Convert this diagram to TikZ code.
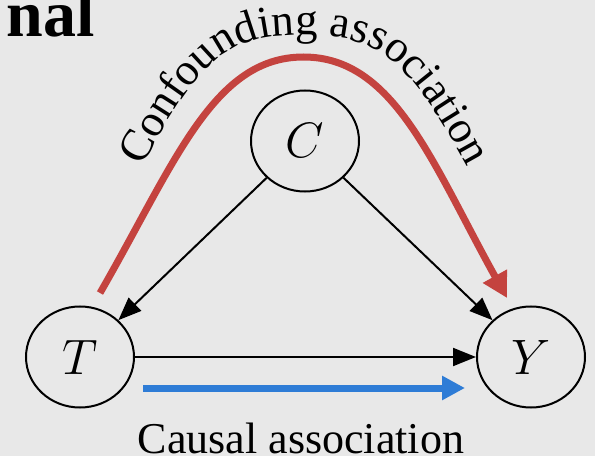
\documentclass[tikz,border=0pt]{standalone}
\usepackage{fontspec}
\setmainfont{Liberation Serif}
\usepackage{tikz}
\usetikzlibrary{arrows.meta,shapes.geometric,decorations.text}

\definecolor{bggray}{HTML}{E8E8E8}
\definecolor{confred}{HTML}{C4433F}
\definecolor{causalblue}{HTML}{2E7CD6}

\begin{document}
\begin{tikzpicture}[x=0.5pt,y=0.5pt,
    var/.style={ellipse,draw,line width=1pt,minimum width=54pt,minimum height=50.5pt,
      inner sep=0pt,font=\fontsize{27}{30}\selectfont},
    edge/.style={-{Triangle[length=11.5pt,width=9pt]},line width=1pt},
    assoc/.style={line width=3.5pt}]
    \useasboundingbox (0,0) rectangle (595,456);
    \fill[bggray] (0,0) rectangle (595,456);

    \node[anchor=base east,inner sep=0pt,font=\fontsize{33}{36}\selectfont\bfseries] (title) at (95,419) {nal};

    % variables
    \node[var] (C) at (305,315) {$C$};
    \node[var] (T) at (80,99) {$T$};
    \node[var] (Y) at (531,99) {$Y$};

    \draw[edge] (C) -- (T);
    \draw[edge] (C) -- (Y);
    \draw[edge] (T) -- (Y);

    % confounding path
    \coordinate (cstart) at (100,163);
    \coordinate (ctop) at (303.5,399);
    \coordinate (cend) at (507,158);
    \draw[assoc,confred,-{Triangle[length=12.5pt,width=13pt]}] (cstart)
        .. controls (175,293) and (213,399) .. (ctop)
        .. controls (394,399) and (432,293) .. (cend);
    \path[decorate,decoration={text along path,text align=center,
        text={|\fontsize{22.5}{26}\selectfont|Confounding association}}]
        (130,266) .. controls (196,393) and (222,421) .. (302,421)
        .. controls (386,421) and (412,393) .. (480,266);

    % causal path
    \coordinate (bstart) at (143,68);
    \coordinate (bend) at (465,68);
    \draw[assoc,causalblue,-{Triangle[length=11.5pt,width=11.5pt]}] (bstart) -- (bend);
    \node[anchor=base,inner sep=0pt,font=\fontsize{22}{26}\selectfont] (causal) at (301,3) {Causal association};
\end{tikzpicture}
\end{document}
